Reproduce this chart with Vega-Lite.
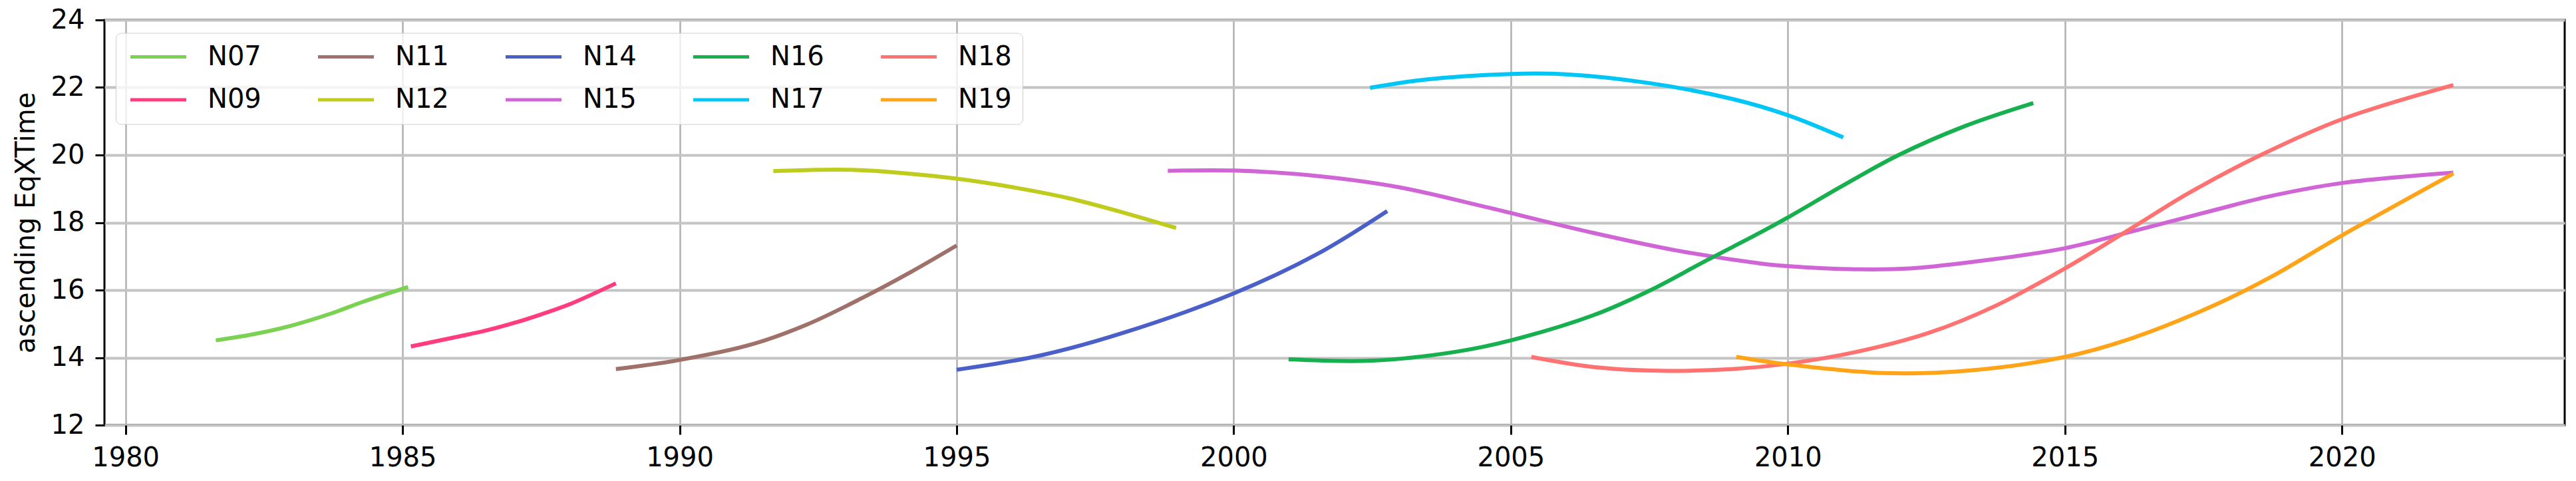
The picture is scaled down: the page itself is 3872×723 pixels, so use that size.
{
  "$schema": "https://vega.github.io/schema/vega-lite/v6.json",
  "width": 3698,
  "height": 609,
  "autosize": {"type": "none"},
  "padding": {"left": 157, "top": 30, "right": 17, "bottom": 84},
  "background": "white",
  "config": {
    "view": {"stroke": "black", "strokeWidth": 3},
    "font": "DejaVu Sans"
  },
  "data": {
    "values": [
      {"s": "N07", "t": 1981.63, "v": 14.51},
      {"s": "N07", "t": 1982.3, "v": 14.69},
      {"s": "N07", "t": 1983.0, "v": 14.95},
      {"s": "N07", "t": 1983.7, "v": 15.3},
      {"s": "N07", "t": 1984.3, "v": 15.66},
      {"s": "N07", "t": 1985.1, "v": 16.09},
      {"s": "N09", "t": 1985.15, "v": 14.33},
      {"s": "N09", "t": 1986.0, "v": 14.62},
      {"s": "N09", "t": 1986.5, "v": 14.8},
      {"s": "N09", "t": 1987.0, "v": 15.02},
      {"s": "N09", "t": 1987.5, "v": 15.28},
      {"s": "N09", "t": 1988.0, "v": 15.57},
      {"s": "N09", "t": 1988.85, "v": 16.2},
      {"s": "N11", "t": 1988.85, "v": 13.66},
      {"s": "N11", "t": 1990.0, "v": 13.93},
      {"s": "N11", "t": 1991.3, "v": 14.39},
      {"s": "N11", "t": 1992.3, "v": 14.98},
      {"s": "N11", "t": 1993.3, "v": 15.77},
      {"s": "N11", "t": 1994.2, "v": 16.56},
      {"s": "N11", "t": 1995.0, "v": 17.32},
      {"s": "N12", "t": 1991.69, "v": 19.52},
      {"s": "N12", "t": 1992.5, "v": 19.56},
      {"s": "N12", "t": 1993.1, "v": 19.56},
      {"s": "N12", "t": 1994.0, "v": 19.47},
      {"s": "N12", "t": 1995.0, "v": 19.3},
      {"s": "N12", "t": 1996.0, "v": 19.05},
      {"s": "N12", "t": 1997.0, "v": 18.73},
      {"s": "N12", "t": 1998.0, "v": 18.3},
      {"s": "N12", "t": 1998.96, "v": 17.84},
      {"s": "N14", "t": 1995.0, "v": 13.64},
      {"s": "N14", "t": 1996.5, "v": 14.06},
      {"s": "N14", "t": 1998.0, "v": 14.73},
      {"s": "N14", "t": 2000.0, "v": 15.9},
      {"s": "N14", "t": 2001.5, "v": 17.06},
      {"s": "N14", "t": 2002.77, "v": 18.34},
      {"s": "N15", "t": 1998.81, "v": 19.53},
      {"s": "N15", "t": 2000.0, "v": 19.54},
      {"s": "N15", "t": 2001.5, "v": 19.38},
      {"s": "N15", "t": 2003.0, "v": 19.04},
      {"s": "N15", "t": 2004.5, "v": 18.48},
      {"s": "N15", "t": 2006.5, "v": 17.69},
      {"s": "N15", "t": 2008.0, "v": 17.17},
      {"s": "N15", "t": 2009.5, "v": 16.79},
      {"s": "N15", "t": 2010.0, "v": 16.71},
      {"s": "N15", "t": 2011.1, "v": 16.62},
      {"s": "N15", "t": 2012.2, "v": 16.64},
      {"s": "N15", "t": 2013.7, "v": 16.91},
      {"s": "N15", "t": 2015.0, "v": 17.24},
      {"s": "N15", "t": 2016.2, "v": 17.73},
      {"s": "N15", "t": 2017.7, "v": 18.37},
      {"s": "N15", "t": 2018.7, "v": 18.78},
      {"s": "N15", "t": 2020.0, "v": 19.17},
      {"s": "N15", "t": 2022.01, "v": 19.48},
      {"s": "N16", "t": 2000.99, "v": 13.95},
      {"s": "N16", "t": 2002.5, "v": 13.91},
      {"s": "N16", "t": 2004.0, "v": 14.17},
      {"s": "N16", "t": 2005.0, "v": 14.51},
      {"s": "N16", "t": 2006.5, "v": 15.26},
      {"s": "N16", "t": 2007.5, "v": 15.98},
      {"s": "N16", "t": 2008.5, "v": 16.85},
      {"s": "N16", "t": 2009.5, "v": 17.7},
      {"s": "N16", "t": 2010.0, "v": 18.15},
      {"s": "N16", "t": 2011.0, "v": 19.1},
      {"s": "N16", "t": 2012.0, "v": 20.0},
      {"s": "N16", "t": 2013.2, "v": 20.86},
      {"s": "N16", "t": 2014.43, "v": 21.54},
      {"s": "N17", "t": 2002.46, "v": 21.99},
      {"s": "N17", "t": 2003.5, "v": 22.24},
      {"s": "N17", "t": 2005.0, "v": 22.4},
      {"s": "N17", "t": 2006.0, "v": 22.39},
      {"s": "N17", "t": 2007.5, "v": 22.13},
      {"s": "N17", "t": 2009.0, "v": 21.66},
      {"s": "N17", "t": 2010.0, "v": 21.18},
      {"s": "N17", "t": 2011.0, "v": 20.52},
      {"s": "N18", "t": 2005.37, "v": 14.02},
      {"s": "N18", "t": 2006.5, "v": 13.72},
      {"s": "N18", "t": 2007.7, "v": 13.61},
      {"s": "N18", "t": 2009.0, "v": 13.66},
      {"s": "N18", "t": 2010.0, "v": 13.82},
      {"s": "N18", "t": 2011.24, "v": 14.17},
      {"s": "N18", "t": 2012.54, "v": 14.73},
      {"s": "N18", "t": 2013.73, "v": 15.52},
      {"s": "N18", "t": 2015.0, "v": 16.64},
      {"s": "N18", "t": 2016.22, "v": 17.85},
      {"s": "N18", "t": 2017.21, "v": 18.85},
      {"s": "N18", "t": 2018.51, "v": 19.98},
      {"s": "N18", "t": 2020.0, "v": 21.06},
      {"s": "N18", "t": 2022.01, "v": 22.07},
      {"s": "N19", "t": 2009.07, "v": 14.02},
      {"s": "N19", "t": 2010.0, "v": 13.8},
      {"s": "N19", "t": 2011.74, "v": 13.54},
      {"s": "N19", "t": 2013.23, "v": 13.61},
      {"s": "N19", "t": 2015.0, "v": 14.02},
      {"s": "N19", "t": 2016.22, "v": 14.58},
      {"s": "N19", "t": 2017.71, "v": 15.56},
      {"s": "N19", "t": 2018.71, "v": 16.38},
      {"s": "N19", "t": 2020.0, "v": 17.62},
      {"s": "N19", "t": 2022.01, "v": 19.45}
    ]
  },
  "mark": {"type": "line", "strokeWidth": 6, "interpolate": "catmull-rom", "clip": true},
  "encoding": {
    "x": {
      "field": "t",
      "type": "quantitative",
      "scale": {"domain": [1979.62, 2024.02], "nice": false, "zero": false},
      "axis": {
        "values": [1980, 1985, 1990, 1995, 2000, 2005, 2010, 2015, 2020],
        "format": "d",
        "title": null,
        "grid": true,
        "gridColor": "#b0b0b0",
        "gridWidth": 2.5,
        "domain": false,
        "ticks": true,
        "tickColor": "black",
        "tickWidth": 3,
        "tickSize": 14,
        "labelFont": "DejaVu Sans",
        "labelFontSize": 40,
        "labelColor": "black",
        "labelPadding": 15,
        "labelFlush": false,
        "labelOverlap": false
      }
    },
    "y": {
      "field": "v",
      "type": "quantitative",
      "scale": {"domain": [12, 24], "nice": false, "zero": false},
      "axis": {
        "values": [12, 14, 16, 18, 20, 22, 24],
        "title": "ascending EqXTime",
        "titleFont": "DejaVu Sans",
        "titleFontSize": 40,
        "titleFontWeight": "normal",
        "titleColor": "black",
        "titleX": -106,
        "titleY": 304.5,
        "titleAngle": 270,
        "titleAlign": "center",
        "titleBaseline": "alphabetic",
        "grid": true,
        "gridColor": "#c4c4c4",
        "gridWidth": 4,
        "domain": false,
        "tickColor": "black",
        "tickWidth": 3,
        "tickSize": 14,
        "labelFont": "DejaVu Sans",
        "labelFontSize": 40,
        "labelColor": "black",
        "labelPadding": 16,
        "labelFlush": false,
        "labelOverlap": false
      }
    },
    "color": {
      "field": "s",
      "type": "nominal",
      "scale": {
        "domain": ["N07", "N11", "N14", "N16", "N18", "N09", "N12", "N15", "N17", "N19"],
        "range": ["#7bd152", "#a0716a", "#4a5fc8", "#16b04f", "#ff7272", "#ff3d7d", "#bfcc1e", "#d066d6", "#00c6f6", "#ffa418"]
      },
      "legend": {
        "title": null,
        "orient": "none",
        "legendX": 17,
        "legendY": 19.5,
        "columns": 5,
        "direction": "horizontal",
        "symbolType": "M-1,0H5",
        "symbolSize": 784,
        "symbolStrokeWidth": 5,
        "labelFont": "DejaVu Sans",
        "labelFontSize": 40,
        "labelColor": "black",
        "labelOffset": 82,
        "columnPadding": 75,
        "rowPadding": 24.5,
        "padding": 16,
        "fillColor": "rgba(255,255,255,0.8)",
        "strokeColor": "#d0d0d0",
        "cornerRadius": 8,
        "labelLimit": 500
      }
    }
  }
}
